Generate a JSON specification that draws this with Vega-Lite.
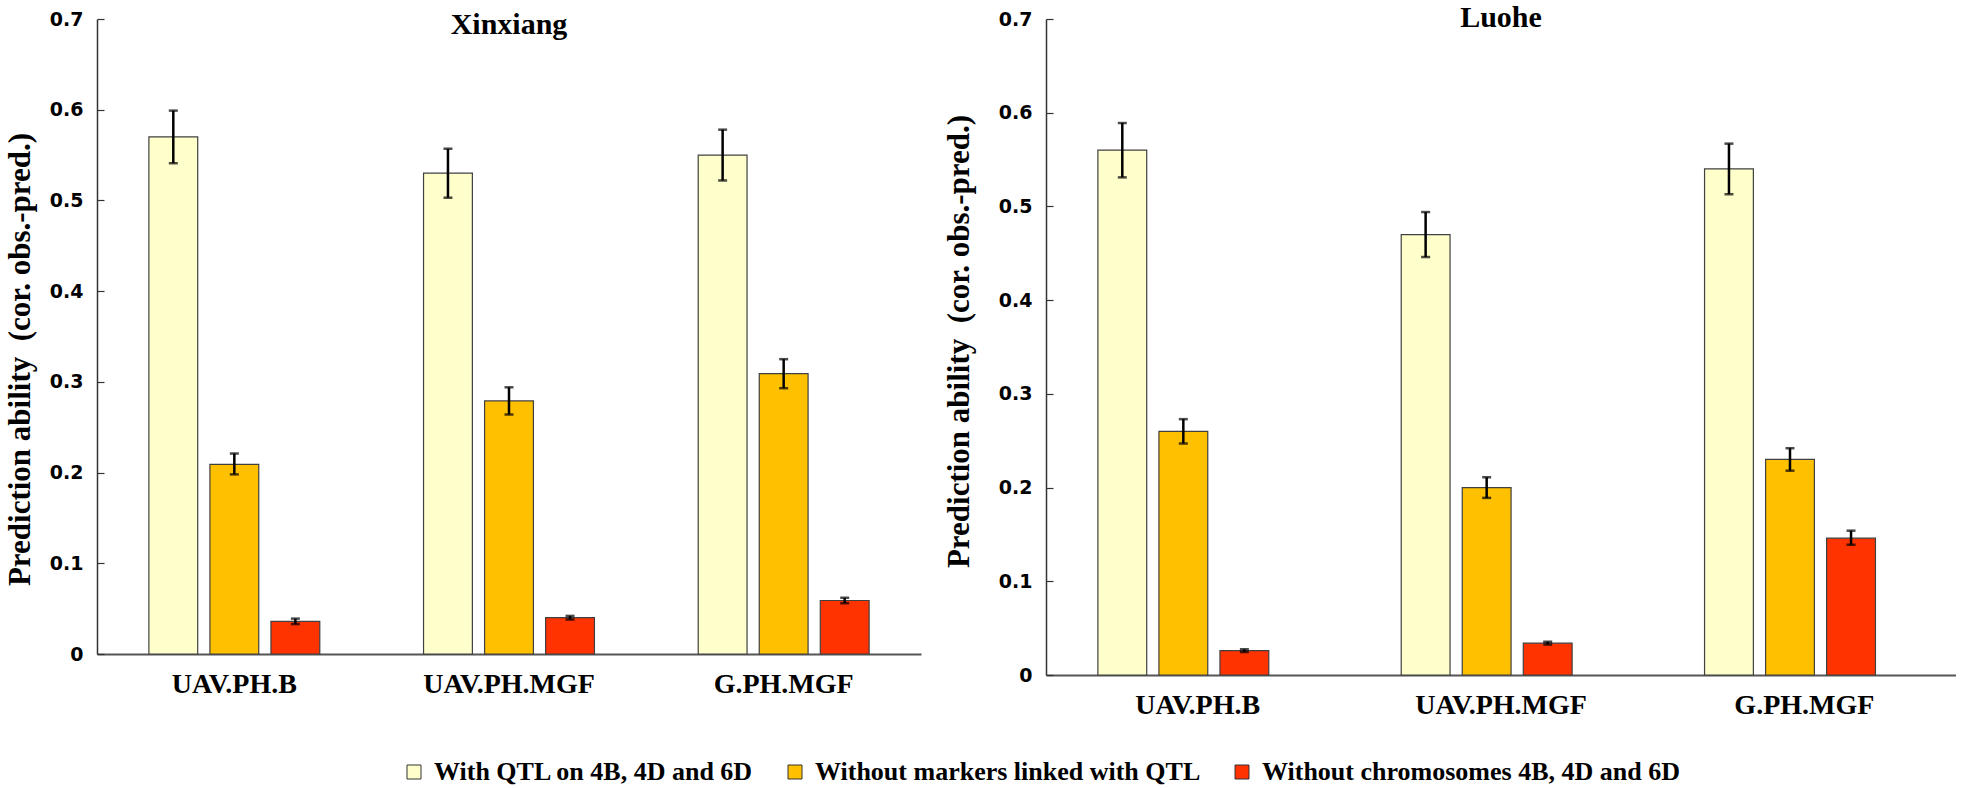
{
  "$schema": "https://vega.github.io/schema/vega-lite/v6.json",
  "padding": {"left": 4, "top": 3, "right": 0, "bottom": 0},
  "background": "white",
  "bounds": "flush",
  "spacing": 125,
  "config": {
    "view": {"stroke": null},
    "title": {"font": "Liberation Serif", "fontSize": 30, "fontWeight": "bold", "color": "black", "anchor": "middle", "frame": "group", "baseline": "alphabetic"},
    "axisY": {
      "grid": false,
      "format": ".1~f",
      "labelFont": "DejaVu Sans", "labelFontSize": 19, "labelFontWeight": "bold", "labelColor": "black",
      "labelPadding": 21, "tickSize": -7, "tickColor": "#333", "tickWidth": 1.2,
      "domainColor": "#333", "domainWidth": 1.5,
      "titleFont": "Liberation Serif", "titleFontSize": 31, "titleFontWeight": "bold", "titleColor": "black"
    },
    "axisX": {
      "title": null, "labelAngle": 0, "ticks": false, "labelPadding": 16,
      "labelFont": "Liberation Serif", "labelFontSize": 28, "labelFontWeight": "bold", "labelColor": "black",
      "domainColor": "#555", "domainWidth": 2
    },
    "legend": {
      "orient": "none", "legendX": 304, "legendY": 740, "direction": "horizontal", "title": null,
      "symbolType": "square", "symbolSize": 196, "symbolStrokeColor": "#333", "symbolStrokeWidth": 1,
      "labelFont": "Liberation Serif", "labelFontSize": 26, "labelFontWeight": "bold", "labelColor": "black",
      "labelOffset": 7, "columnPadding": 28, "labelLimit": 700
    }
  },
  "data": {"values": [
    {"site": "Xinxiang", "trait": "UAV.PH.B", "group": "With QTL on 4B, 4D and 6D", "value": 0.570, "lo": 0.541, "hi": 0.599},
    {"site": "Xinxiang", "trait": "UAV.PH.B", "group": "Without markers linked with QTL", "value": 0.209, "lo": 0.198, "hi": 0.221},
    {"site": "Xinxiang", "trait": "UAV.PH.B", "group": "Without chromosomes 4B, 4D and 6D", "value": 0.036, "lo": 0.033, "hi": 0.039},
    {"site": "Xinxiang", "trait": "UAV.PH.MGF", "group": "With QTL on 4B, 4D and 6D", "value": 0.530, "lo": 0.503, "hi": 0.557},
    {"site": "Xinxiang", "trait": "UAV.PH.MGF", "group": "Without markers linked with QTL", "value": 0.279, "lo": 0.264, "hi": 0.294},
    {"site": "Xinxiang", "trait": "UAV.PH.MGF", "group": "Without chromosomes 4B, 4D and 6D", "value": 0.040, "lo": 0.038, "hi": 0.042},
    {"site": "Xinxiang", "trait": "G.PH.MGF", "group": "With QTL on 4B, 4D and 6D", "value": 0.550, "lo": 0.522, "hi": 0.578},
    {"site": "Xinxiang", "trait": "G.PH.MGF", "group": "Without markers linked with QTL", "value": 0.309, "lo": 0.293, "hi": 0.325},
    {"site": "Xinxiang", "trait": "G.PH.MGF", "group": "Without chromosomes 4B, 4D and 6D", "value": 0.059, "lo": 0.056, "hi": 0.062},
    {"site": "Luohe", "trait": "UAV.PH.B", "group": "With QTL on 4B, 4D and 6D", "value": 0.560, "lo": 0.531, "hi": 0.589},
    {"site": "Luohe", "trait": "UAV.PH.B", "group": "Without markers linked with QTL", "value": 0.260, "lo": 0.247, "hi": 0.273},
    {"site": "Luohe", "trait": "UAV.PH.B", "group": "Without chromosomes 4B, 4D and 6D", "value": 0.026, "lo": 0.0245, "hi": 0.0275},
    {"site": "Luohe", "trait": "UAV.PH.MGF", "group": "With QTL on 4B, 4D and 6D", "value": 0.470, "lo": 0.446, "hi": 0.494},
    {"site": "Luohe", "trait": "UAV.PH.MGF", "group": "Without markers linked with QTL", "value": 0.200, "lo": 0.189, "hi": 0.211},
    {"site": "Luohe", "trait": "UAV.PH.MGF", "group": "Without chromosomes 4B, 4D and 6D", "value": 0.034, "lo": 0.0325, "hi": 0.0355},
    {"site": "Luohe", "trait": "G.PH.MGF", "group": "With QTL on 4B, 4D and 6D", "value": 0.540, "lo": 0.513, "hi": 0.567},
    {"site": "Luohe", "trait": "G.PH.MGF", "group": "Without markers linked with QTL", "value": 0.230, "lo": 0.218, "hi": 0.242},
    {"site": "Luohe", "trait": "G.PH.MGF", "group": "Without chromosomes 4B, 4D and 6D", "value": 0.146, "lo": 0.139, "hi": 0.154}
  ]},
  "hconcat": [
    {
      "width": 824, "height": 635,
      "title": {"text": "Xinxiang", "offset": -30},
      "transform": [{"filter": "datum.site === 'Xinxiang'"}],
      "encoding": {
        "x": {"field": "trait", "type": "nominal", "sort": ["UAV.PH.B", "UAV.PH.MGF", "G.PH.MGF"], "scale": {"paddingInner": 0, "paddingOuter": 0}},
        "xOffset": {"field": "group", "type": "nominal", "sort": ["With QTL on 4B, 4D and 6D", "Without markers linked with QTL", "Without chromosomes 4B, 4D and 6D"], "scale": {"paddingInner": 0.2, "paddingOuter": 0.85}}
      },
      "layer": [
        {
          "mark": {"type": "bar", "stroke": "#404040", "strokeWidth": 1.2},
          "encoding": {
            "y": {"field": "value", "type": "quantitative", "scale": {"domain": [0, 0.7], "nice": false}, "axis": {"title": "Prediction ability\u00a0 (cor. obs.-pred.)", "titlePadding": 13, "titleY": 340, "values": [0, 0.1, 0.2, 0.3, 0.4, 0.5, 0.6, 0.7]}},
            "color": {"field": "group", "type": "nominal", "scale": {"domain": ["With QTL on 4B, 4D and 6D", "Without markers linked with QTL", "Without chromosomes 4B, 4D and 6D"], "range": ["#FFFFCC", "#FFC000", "#FF3300"]}}
          }
        },
        {
          "mark": {"type": "rule", "color": "black", "strokeWidth": 2.5},
          "encoding": {"y": {"field": "lo", "type": "quantitative", "axis": {"title": "Prediction ability\u00a0 (cor. obs.-pred.)", "titlePadding": 13, "titleY": 340, "values": [0, 0.1, 0.2, 0.3, 0.4, 0.5, 0.6, 0.7]}}, "y2": {"field": "hi"}}
        },
        {
          "mark": {"type": "tick", "color": "black", "thickness": 2.5, "size": 9, "orient": "horizontal"},
          "encoding": {"y": {"field": "lo", "type": "quantitative", "axis": {"title": "Prediction ability\u00a0 (cor. obs.-pred.)", "titlePadding": 13, "titleY": 340, "values": [0, 0.1, 0.2, 0.3, 0.4, 0.5, 0.6, 0.7]}}}
        },
        {
          "mark": {"type": "tick", "color": "black", "thickness": 2.5, "size": 9, "orient": "horizontal"},
          "encoding": {"y": {"field": "hi", "type": "quantitative", "axis": {"title": "Prediction ability\u00a0 (cor. obs.-pred.)", "titlePadding": 13, "titleY": 340, "values": [0, 0.1, 0.2, 0.3, 0.4, 0.5, 0.6, 0.7]}}}
        }
      ]
    },
    {
      "width": 910, "height": 656,
      "title": {"text": "Luohe", "offset": -23},
      "transform": [{"filter": "datum.site === 'Luohe'"}],
      "encoding": {
        "x": {"field": "trait", "type": "nominal", "sort": ["UAV.PH.B", "UAV.PH.MGF", "G.PH.MGF"], "scale": {"paddingInner": 0, "paddingOuter": 0}},
        "xOffset": {"field": "group", "type": "nominal", "sort": ["With QTL on 4B, 4D and 6D", "Without markers linked with QTL", "Without chromosomes 4B, 4D and 6D"], "scale": {"paddingInner": 0.2, "paddingOuter": 0.85}}
      },
      "layer": [
        {
          "mark": {"type": "bar", "stroke": "#404040", "strokeWidth": 1.2},
          "encoding": {
            "y": {"field": "value", "type": "quantitative", "scale": {"domain": [0, 0.7], "nice": false}, "axis": {"title": "Prediction ability\u00a0 (cor. obs.-pred.)", "titlePadding": 23, "titleY": 322, "values": [0, 0.1, 0.2, 0.3, 0.4, 0.5, 0.6, 0.7]}},
            "color": {"field": "group", "type": "nominal", "scale": {"domain": ["With QTL on 4B, 4D and 6D", "Without markers linked with QTL", "Without chromosomes 4B, 4D and 6D"], "range": ["#FFFFCC", "#FFC000", "#FF3300"]}}
          }
        },
        {
          "mark": {"type": "rule", "color": "black", "strokeWidth": 2.5},
          "encoding": {"y": {"field": "lo", "type": "quantitative", "axis": {"title": "Prediction ability\u00a0 (cor. obs.-pred.)", "titlePadding": 23, "titleY": 322, "values": [0, 0.1, 0.2, 0.3, 0.4, 0.5, 0.6, 0.7]}}, "y2": {"field": "hi"}}
        },
        {
          "mark": {"type": "tick", "color": "black", "thickness": 2.5, "size": 9, "orient": "horizontal"},
          "encoding": {"y": {"field": "lo", "type": "quantitative", "axis": {"title": "Prediction ability\u00a0 (cor. obs.-pred.)", "titlePadding": 23, "titleY": 322, "values": [0, 0.1, 0.2, 0.3, 0.4, 0.5, 0.6, 0.7]}}}
        },
        {
          "mark": {"type": "tick", "color": "black", "thickness": 2.5, "size": 9, "orient": "horizontal"},
          "encoding": {"y": {"field": "hi", "type": "quantitative", "axis": {"title": "Prediction ability\u00a0 (cor. obs.-pred.)", "titlePadding": 23, "titleY": 322, "values": [0, 0.1, 0.2, 0.3, 0.4, 0.5, 0.6, 0.7]}}}
        }
      ]
    }
  ]
}
